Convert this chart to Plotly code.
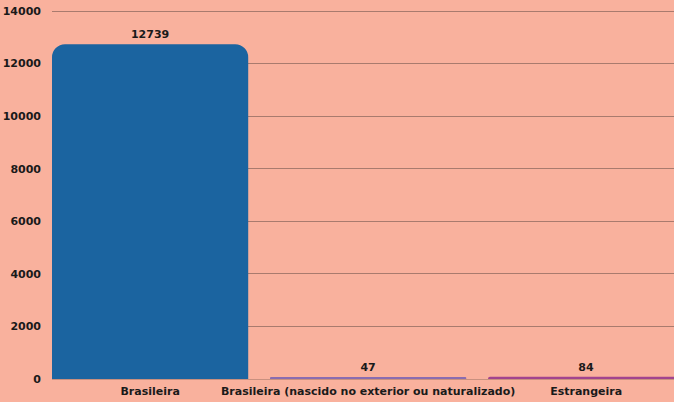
import plotly.graph_objects as go

categories = ["Brasileira", "Brasileira (nascido no exterior ou naturalizado)", "Estrangeira"]
values = [12739, 47, 84]
colors = ["#1B64A0", "#8A6CB0", "#A2448E"]
tick_vals = [0, 2000, 4000, 6000, 8000, 10000, 12000, 14000]

fig = go.Figure(go.Bar(
    x=categories,
    y=values,
    marker=dict(color=colors, cornerradius=13, line=dict(width=0)),
    text=[str(v) for v in values],
    textposition="outside",
    textfont=dict(family="DejaVu Sans", size=11, color="#1a1a1a", weight="bold"),
    cliponaxis=False,
    width=0.9,
))

bg = "#F9B19D"
fig.update_layout(
    width=674, height=402,
    paper_bgcolor=bg, plot_bgcolor=bg,
    margin=dict(l=52, r=0, t=10, b=23),
    showlegend=False,
    font=dict(family="DejaVu Sans", size=11, color="#1a1a1a", weight="bold"),
    bargap=0.1,
)
fig.update_xaxes(
    range=[-0.45, 2.403],
    showgrid=False, showline=False, zeroline=False,
    ticks="", ticklabelstandoff=4,
    tickfont=dict(family="DejaVu Sans", size=11, color="#1a1a1a", weight="bold"),
)
fig.update_yaxes(
    range=[0, 14040],
    tickvals=tick_vals,
    ticktext=[str(v) for v in tick_vals],
    showgrid=True, gridcolor="#A97B6E", gridwidth=1,
    zeroline=True, zerolinecolor="#C9907F", zerolinewidth=1,
    showline=False,
    ticks="", ticklabelstandoff=10,
    tickfont=dict(family="DejaVu Sans", size=11, color="#1a1a1a", weight="bold"),
)

fig.write_html(
    "out.html",
    config={"displayModeBar": False},
    post_script="document.body.style.margin='0';document.body.style.background='" + bg + "';",
)
